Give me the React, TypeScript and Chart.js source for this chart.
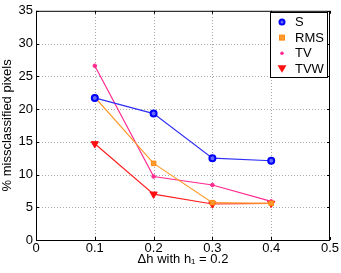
import React, { useEffect, useRef } from "react";
import { Chart, registerables } from "chart.js";
Chart.register(...registerables);

const xValues = [0.1, 0.2, 0.3, 0.4];
const sValues = [21.7, 19.3, 12.5, 12.1];
const rmsValues = [21.8, 11.7, 5.7, 5.6];
const tvValues = [26.6, 9.7, 8.4, 5.9];
const tvwValues = [14.7, 7.0, 5.5, 5.6];
const seriesNames = ["S", "RMS", "TV", "TVW"];
const xTicks = [0, 0.1, 0.2, 0.3, 0.4, 0.5];
const yTicks = [0, 5, 10, 15, 20, 25, 30, 35];

const FONT = "'Liberation Sans', Arial, sans-serif";

export default function App() {
  const ref = useRef<HTMLCanvasElement>(null);
  useEffect(() => {
    document.body.style.margin = "0";
    const ctx = ref.current!.getContext("2d")!;
    const mk = (vals: number[]) => xValues.map((x, i) => ({ x, y: vals[i] }));
    const gridPlugin = {
      id: "dotgrid",
      beforeDatasetsDraw(chart: any) {
        const { ctx, chartArea: a, scales } = chart;
        ctx.save();
        ctx.strokeStyle = "#a8a8a8";
        ctx.lineWidth = 1;
        ctx.setLineDash([1, 2]);
        ctx.beginPath();
        xTicks.forEach((t) => {
          if (t === 0 || t === 0.5) return;
          const px = Math.round(scales.x.getPixelForValue(t)) + 0.5;
          ctx.moveTo(px, a.bottom); ctx.lineTo(px, a.top);
        });
        yTicks.forEach((t) => {
          if (t === 0 || t === 35) return;
          const py = Math.round(scales.y.getPixelForValue(t)) + 0.5;
          ctx.moveTo(a.left, py); ctx.lineTo(a.right, py);
        });
        ctx.stroke();
        ctx.restore();
      },
    };
    const boxPlugin = {
      id: "box",
      afterDraw(chart: any) {
        const { ctx, chartArea: a, scales } = chart;
        ctx.save();
        ctx.strokeStyle = "#000";
        ctx.lineWidth = 1;
        ctx.strokeRect(a.left + 0.5, a.top + 0.5, a.right - a.left - 1, a.bottom - a.top);
        ctx.beginPath();
        xTicks.forEach((t) => {
          const px = Math.round(scales.x.getPixelForValue(t)) + 0.5;
          ctx.moveTo(px, a.bottom); ctx.lineTo(px, a.bottom - 3);
          ctx.moveTo(px, a.top); ctx.lineTo(px, a.top + 3);
        });
        yTicks.forEach((t) => {
          const py = Math.round(scales.y.getPixelForValue(t)) + 0.5;
          ctx.moveTo(a.left, py); ctx.lineTo(a.left + 3, py);
          ctx.moveTo(a.right, py); ctx.lineTo(a.right - 3, py);
        });
        ctx.stroke();
        // legend
        const lx = 270, ly = 12, lw = 57, lh = 65;
        ctx.fillStyle = "#fff";
        ctx.fillRect(lx, ly, lw, lh);
        ctx.strokeRect(lx + 0.5, ly + 0.5, lw, lh);
        ctx.font = "13px " + FONT;
        ctx.textBaseline = "middle";
        ctx.textAlign = "left";
        chart.data.datasets.forEach((ds: any, i: number) => {
          const cy = ly + 10 + i * 15.6;
          const cx = lx + 12;
          ctx.fillStyle = "#000";
          ctx.fillText(ds.label, lx + 25, cy + 0.5);
          ctx.fillStyle = ds.pointBackgroundColor;
          ctx.strokeStyle = ds.pointBorderColor;
          ctx.lineWidth = ds.pointBorderWidth;
          ctx.beginPath();
          if (i === 0) { ctx.arc(cx, cy, 2.5, 0, Math.PI * 2); ctx.fill(); ctx.stroke(); }
          else if (i === 1) { ctx.fillRect(cx - 2.5, cy - 2.5, 5, 5); ctx.strokeRect(cx - 2.5, cy - 2.5, 5, 5); }
          else if (i === 2) { ctx.arc(cx, cy, 1.8, 0, Math.PI * 2); ctx.fill(); }
          else { ctx.moveTo(cx - 4.5, cy - 3.5); ctx.lineTo(cx + 4.5, cy - 3.5); ctx.lineTo(cx, cy + 4); ctx.closePath(); ctx.fill(); }
          ctx.strokeStyle = "#000";
          ctx.lineWidth = 1;
        });
        ctx.restore();
      },
    };
    const chart = new Chart(ctx, {
      type: "line",
      data: {
        datasets: [
          { label: seriesNames[0], data: mk(sValues), borderColor: "#2f2ff5", pointBackgroundColor: "#6a6aff", pointBorderColor: "#0000ff", pointBorderWidth: 2, pointStyle: "circle", pointRadius: 3, borderWidth: 1.2 },
          { label: seriesNames[1], data: mk(rmsValues), borderColor: "#ff9a2e", pointBackgroundColor: "#ff9a2e", pointBorderColor: "#ff8a10", pointBorderWidth: 1, pointStyle: "rect", pointRadius: 3.2, borderWidth: 1.2 },
          { label: seriesNames[2], data: mk(tvValues), borderColor: "#ff2a90", pointBackgroundColor: "#ff2a90", pointBorderColor: "#ff2a90", pointBorderWidth: 1, pointStyle: "circle", pointRadius: 1.8, borderWidth: 1.2 },
          { label: seriesNames[3], data: mk(tvwValues), borderColor: "#ff2020", pointBackgroundColor: "#ff1010", pointBorderColor: "#ff1010", pointBorderWidth: 1, pointStyle: "triangle", pointRotation: 180, pointRadius: 4.2, borderWidth: 1.2 },
        ],
      },
      options: {
        animation: false,
        responsive: false,
        layout: { padding: { top: 10, right: 11, left: 0, bottom: 0 } },
        plugins: { legend: { display: false }, tooltip: { enabled: false } },
        scales: {
          x: {
            type: "linear", min: 0, max: 0.5,
            afterBuildTicks: (s: any) => { s.ticks = xTicks.map((v) => ({ value: v })); },
            afterFit: (s: any) => { s.height = 33; },
            ticks: { color: "#000", font: { family: FONT, size: 13 }, padding: 1, maxRotation: 0, callback: (v: any) => (Number(v) === 0 ? "0" : Number(v).toFixed(1)) },
            grid: { display: false, drawTicks: false },
            border: { display: false },
            title: { display: true, text: "Δh with h₁ = 0.2", color: "#000", font: { family: FONT, size: 13 }, padding: { top: 0, bottom: 6 } },
          },
          y: {
            type: "linear", min: 0, max: 35,
            afterBuildTicks: (s: any) => { s.ticks = yTicks.map((v) => ({ value: v })); },
            afterFit: (s: any) => { s.width = 36; },
            ticks: { color: "#000", font: { family: FONT, size: 13 }, padding: 3 },
            grid: { display: false, drawTicks: false },
            border: { display: false },
            title: { display: true, text: "% missclassified pixels", color: "#000", font: { family: FONT, size: 13 }, padding: { top: 0, bottom: 0 } },
          },
        },
      } as any,
      plugins: [gridPlugin, boxPlugin],
    });
    return () => chart.destroy();
  }, []);
  return (
    <div style={{ position: "absolute", left: 0, top: 0, width: 341, height: 273, background: "#fff" }}>
      <canvas ref={ref} width={341} height={273} />
    </div>
  );
}
